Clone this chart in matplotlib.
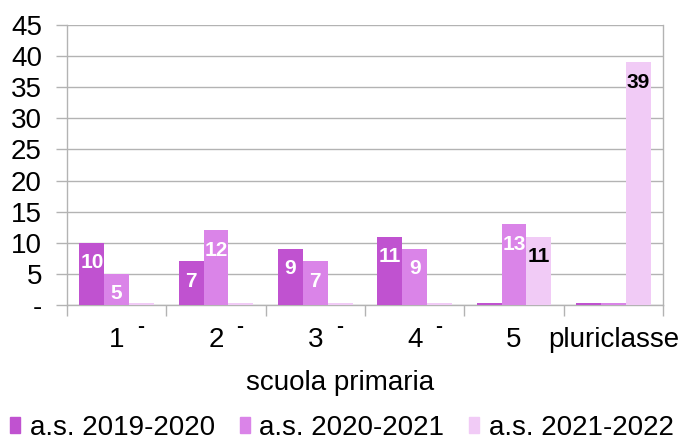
import matplotlib
matplotlib.use("Agg")
import matplotlib.pyplot as plt
import numpy as np

categories = ["1", "2", "3", "4", "5", "pluriclasse"]
series_names = ["a.s. 2019-2020", "a.s. 2020-2021", "a.s. 2021-2022"]
s2019 = [10, 7, 9, 11, 0, 0]
s2020 = [5, 12, 7, 9, 13, 0]
s2021 = [0, 0, 0, 0, 11, 39]
yticks = [0, 5, 10, 15, 20, 25, 30, 35, 40, 45]
ytick_labels = ["-", "5", "10", "15", "20", "25", "30", "35", "40", "45"]

colors = ["#c052d0", "#da84e8", "#f1cbf6"]
label_colors = ["white", "white", "black"]

plt.rcParams['font.family'] = ['Liberation Sans', 'DejaVu Sans']

fig = plt.figure(figsize=(6.8, 4.43), dpi=100)
ax = fig.add_axes([67/680, 1-305/443, (663-67)/680, (305-25)/443])

x = np.arange(len(categories))
w = 0.25
all_series = [s2019, s2020, s2021]
for i, (vals, c, lc) in enumerate(zip(all_series, colors, label_colors)):
    xs = x + (i - 1) * w
    heights = [v if v > 0 else 0.25 for v in vals]
    ax.bar(xs, heights, width=w, color=c, zorder=3, clip_on=False)
    for xi, v in zip(xs, vals):
        if v == 0:
            if i == 2 and xi < 4:
                ax.annotate("-", (xi, 0), xytext=(-1, -21), textcoords='offset pixels',
                            ha='center', va='center', fontsize=15, fontweight='bold',
                            color='black', annotation_clip=False)
            continue
        ax.annotate(str(v), (xi, v), xytext=(0, -20), textcoords='offset pixels',
                    ha='center', va='center', fontsize=15, fontweight='bold', color=lc)

ax.set_xlim(-0.5, 5.5)
ax.set_ylim(0, 45)
ax.set_yticks(yticks)
ax.set_yticklabels(ytick_labels, fontsize=20)
ax.yaxis.grid(True, color="#b3b3b3", linewidth=1, zorder=0)
ax.tick_params(axis='y', length=8, color="#b3b3b3", width=1, pad=10)
ax.set_xticks(x)
ax.set_xticklabels(categories, fontsize=20)
ax.tick_params(axis='x', which='major', length=0, pad=16)
ax.set_xticks(np.arange(-0.5, 6.0, 1), minor=True)
ax.tick_params(axis='x', which='minor', length=8, color="#b3b3b3", width=1)
ax.spines['top'].set_visible(False)
for s in ['left', 'right', 'bottom']:
    ax.spines[s].set_color("#b3b3b3")
    ax.spines[s].set_linewidth(1)
ax.set_axisbelow(True)

fig.text(340/680, 1-383/443, "scuola primaria", ha='center', va='center', fontsize=20)

handles = [plt.Rectangle((0, 0), 1, 1, color=c) for c in colors]
fig.legend(handles, series_names, loc='center', bbox_to_anchor=(342/680, 1-428/443),
           ncol=3, frameon=False, fontsize=20, handlelength=0.36, handleheight=0.54,
           handletextpad=0.35, columnspacing=0.9, borderpad=0, borderaxespad=0)

fig.savefig("out.png", dpi=100)
